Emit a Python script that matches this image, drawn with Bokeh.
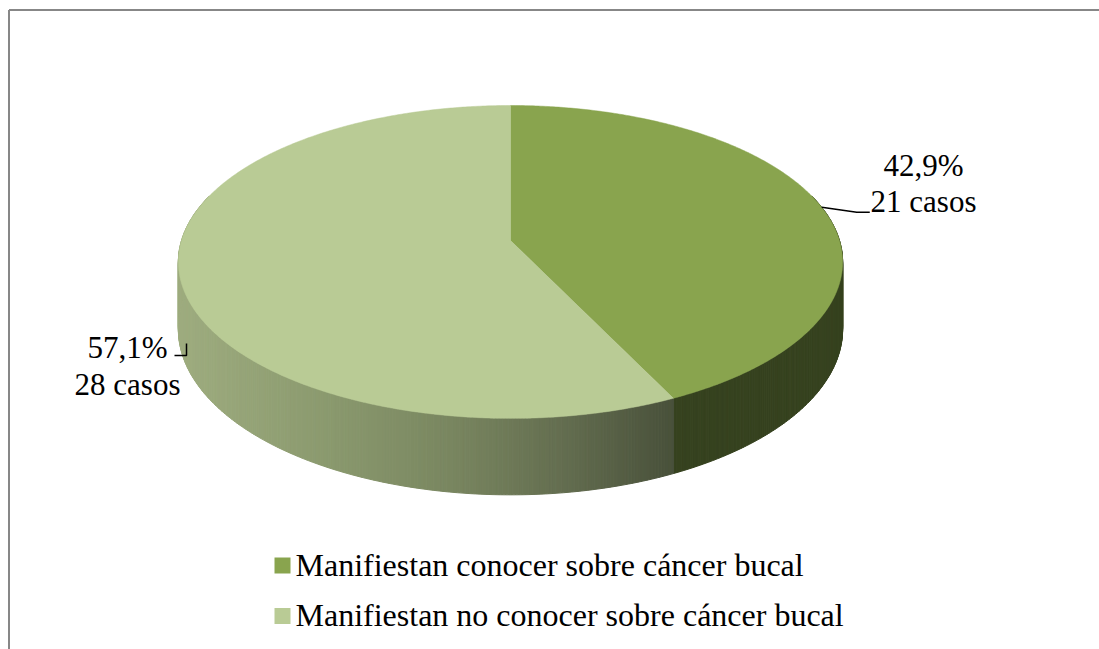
import math
from bokeh.plotting import figure
from bokeh.models import Range1d
from bokeh.core.properties import value
from bokeh.embed import file_html
from bokeh.resources import INLINE

# ---- data ----
categorias = ["Manifiestan conocer sobre cáncer bucal",
              "Manifiestan no conocer sobre cáncer bucal"]
casos = [21, 28]
colores_cara = ["#89A44E", "#B9CB95"]

total = sum(casos)
porcentajes = [f"{100 * c / total:.1f}%".replace(".", ",") for c in casos]
etiquetas_casos = [f"{c} casos" for c in casos]

# ---- canvas: one data unit per pixel, y grows downward ----
W, H = 1099, 649
p = figure(width=W, height=H, output_backend="svg", toolbar_location=None,
           x_range=Range1d(0, W), y_range=Range1d(H, 0), min_border=0)
p.axis.visible = False
p.grid.visible = False
p.outline_line_color = None
p.background_fill_color = "white"
p.border_fill_color = "white"

# chart-area frame (top and left edges)
p.multi_line(xs=[[8.5, W + 5], [8.5, 8.5]], ys=[[9.5, 9.5], [9.5, H + 5]],
             line_color="#878787", line_width=2)

# ---- 3-D pie projection (perspective tilt of a flat disc) ----
CX, CY = 510.0, 240.0      # projected centre of the top face
A, B = 329.0, 153.5        # horizontal / vertical radii
K = -0.137                 # perspective factor
DEPTH = 66.0               # thickness of the disc


def proj(phi_deg, r=1.0, drop=0.0):
    ph = math.radians(phi_deg)
    u = r * math.sin(ph)
    v = -r * math.cos(ph)
    den = 1.0 + K * v
    return CX + A * u / den, CY + B * v / den + drop / den


# slice angles, clockwise from twelve o'clock
angulos = []
acc = 0.0
for c in casos:
    a0 = acc
    acc += 360.0 * c / total
    angulos.append((a0, acc))

# side shading: dark slice is flat, light slice darkens to the right
lado_oscuro = (54, 66, 31)
paradas = [(180, (158, 172, 127)), (330, (138, 153, 110)), (450, (121, 134, 96)),
           (560, (100, 110, 80)), (675, (72, 80, 58))]


def color_lado(x):
    if x <= paradas[0][0]:
        c = paradas[0][1]
    elif x >= paradas[-1][0]:
        c = paradas[-1][1]
    else:
        for (x0, c0), (x1, c1) in zip(paradas, paradas[1:]):
            if x0 <= x <= x1:
                t = (x - x0) / (x1 - x0)
                c = tuple(c0[i] + (c1[i] - c0[i]) * t for i in range(3))
                break
    return "#%02x%02x%02x" % tuple(int(round(k)) for k in c)


sx, sy, scol = [], [], []
paso = 0.5
for i, (a0, a1) in enumerate(angulos):
    n = max(2, int(math.ceil((a1 - a0) / paso)))
    for j in range(n):
        f0 = a0 + (a1 - a0) * j / n
        f1 = a0 + (a1 - a0) * (j + 1) / n
        if -math.cos(math.radians((f0 + f1) / 2)) < -0.3:
            continue  # back of the rim, hidden by the top face
        x0, y0 = proj(f0)
        x1, y1 = proj(f1)
        _, y0b = proj(f0, drop=DEPTH)
        _, y1b = proj(f1, drop=DEPTH)
        sx.append([x0, x1, x1, x0])
        sy.append([y0, y1, y1b, y0b])
        if i == 0:
            scol.append("#%02x%02x%02x" % lado_oscuro)
        else:
            scol.append(color_lado((x0 + x1) / 2))

p.patches(xs=sx, ys=sy, fill_color=scol, line_color=scol, line_width=1)

# top faces
tx, ty = [], []
for a0, a1 in angulos:
    n = max(2, int(math.ceil((a1 - a0) / paso)))
    xs, ys = [CX], [CY]
    for j in range(n + 1):
        x, y = proj(a0 + (a1 - a0) * j / n)
        xs.append(x)
        ys.append(y)
    tx.append(xs)
    ty.append(ys)
p.patches(xs=tx, ys=ty, fill_color=colores_cara, line_color=colores_cara, line_width=0.5)

# ---- data labels with leader lines ----
FUENTE = value("Liberation Serif")
mid0 = sum(angulos[0]) / 2
ax0, ay0 = proj(mid0)
p.line(x=[ax0, ax0 + 35, ax0 + 48], y=[ay0, ay0 + 5, ay0 + 5], line_color="black", line_width=1.5)
p.line(x=[186, 186, 174], y=[343, 355, 355], line_color="black", line_width=1.5)

lab_x = [923, 127]
lab_y1 = [165, 347]
lab_y2 = [201, 384]
p.text(x=lab_x, y=lab_y1, text=porcentajes, text_font=FUENTE, text_font_size=value("31px"),
       text_align="center", text_baseline="alphabetic", text_color="black")
p.text(x=lab_x, y=lab_y2, text=etiquetas_casos, text_font=FUENTE, text_font_size=value("31px"),
       text_align="center", text_baseline="alphabetic", text_color="black")

# ---- legend ----
ley_y = [565, 615.5]
p.rect(x=[282, 282], y=ley_y, width=16, height=16, fill_color=colores_cara, line_color=None)
p.text(x=[295, 295], y=[y - 1 for y in ley_y], text=categorias, text_font=FUENTE,
       text_font_size=value("32px"), text_align="left", text_baseline="alphabetic",
       text_color="black")

open("out.html", "w").write(file_html(p, INLINE))
